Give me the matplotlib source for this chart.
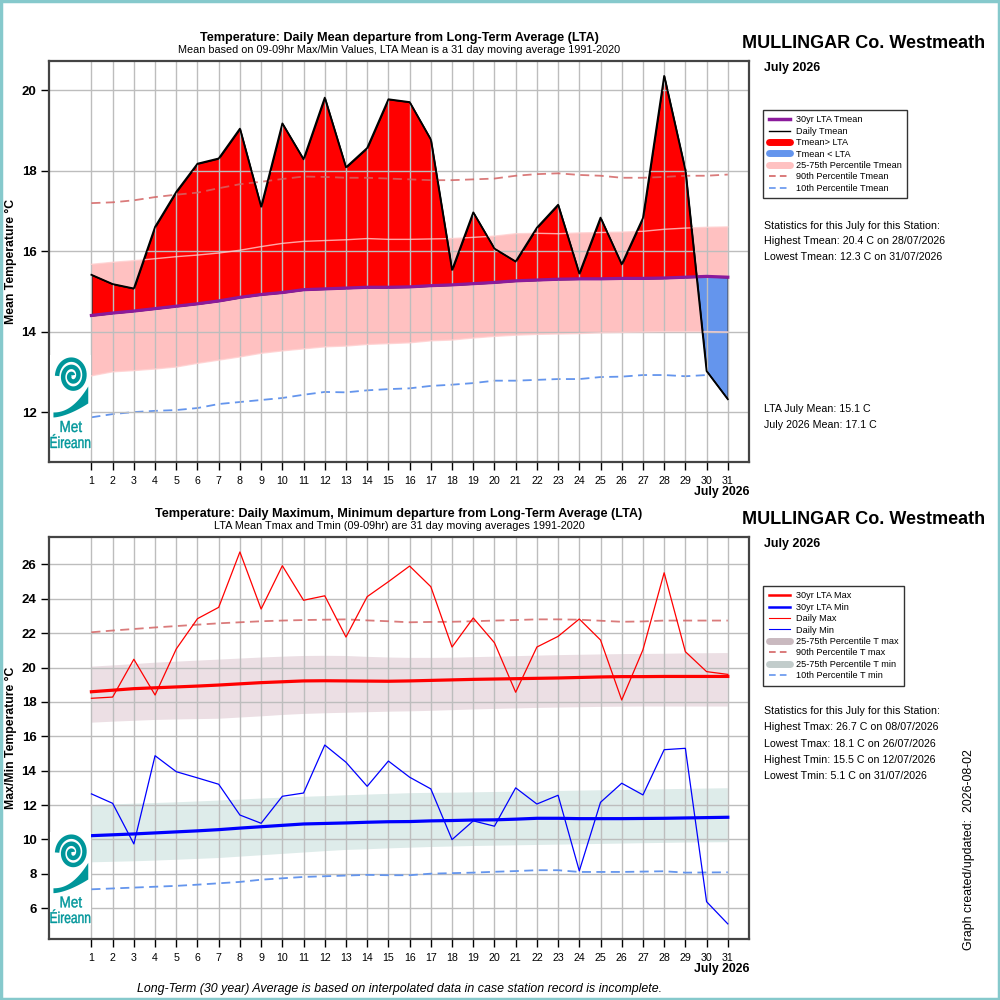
import numpy as np
import matplotlib
matplotlib.use("Agg")
import matplotlib.pyplot as plt
from matplotlib.lines import Line2D
from matplotlib.patches import Rectangle, PathPatch
from matplotlib.textpath import TextPath
from matplotlib.font_manager import FontProperties
from matplotlib.transforms import Affine2D

plt.rcParams['font.family'] = ['Liberation Sans', 'DejaVu Sans']

# ---------------- data ----------------
days = list(range(1, 32))
day_labels = [str(d) for d in days]

tmean = [15.42, 15.19, 15.08, 16.61, 17.48, 18.18, 18.31, 19.05, 17.11, 19.18,
         18.29, 19.82, 18.09, 18.57, 19.78, 19.71, 18.78, 15.54, 16.97, 16.07,
         15.75, 16.59, 17.16, 15.45, 16.84, 15.68, 16.83, 20.36, 18.02, 13.03, 12.33]
lta_tmean = [14.41, 14.47, 14.52, 14.58, 14.64, 14.70, 14.77, 14.86, 14.93, 14.98,
             15.05, 15.07, 15.09, 15.11, 15.11, 15.12, 15.15, 15.17, 15.20, 15.23,
             15.27, 15.29, 15.31, 15.32, 15.32, 15.33, 15.33, 15.34, 15.36, 15.38, 15.36]
p75_tmean = [15.68, 15.73, 15.77, 15.82, 15.87, 15.91, 15.96, 16.03, 16.12, 16.20,
             16.25, 16.27, 16.29, 16.32, 16.30, 16.30, 16.31, 16.32, 16.35, 16.38,
             16.44, 16.45, 16.44, 16.46, 16.47, 16.48, 16.50, 16.55, 16.58, 16.60, 16.61]
p25_tmean = [12.91, 13.01, 13.04, 13.08, 13.13, 13.22, 13.30, 13.38, 13.47, 13.53,
             13.58, 13.63, 13.65, 13.69, 13.71, 13.73, 13.78, 13.80, 13.85, 13.89,
             13.92, 13.94, 13.95, 13.96, 13.98, 13.99, 14.00, 14.01, 14.01, 14.01, 14.00]
p90_tmean = [17.20, 17.22, 17.27, 17.35, 17.41, 17.46, 17.57, 17.67, 17.73, 17.80,
             17.86, 17.85, 17.83, 17.83, 17.81, 17.79, 17.77, 17.77, 17.79, 17.81,
             17.88, 17.92, 17.94, 17.90, 17.88, 17.83, 17.83, 17.85, 17.88, 17.88, 17.91]
p10_tmean = [11.88, 11.96, 12.01, 12.04, 12.06, 12.11, 12.21, 12.26, 12.31, 12.36,
             12.44, 12.51, 12.50, 12.55, 12.58, 12.60, 12.66, 12.69, 12.73, 12.79,
             12.79, 12.81, 12.83, 12.83, 12.88, 12.89, 12.93, 12.93, 12.90, 12.93, 12.93]

tmax = [18.21, 18.28, 20.48, 18.40, 21.08, 22.84, 23.50, 26.72, 23.40, 25.92,
        23.91, 24.17, 21.77, 24.12, 24.99, 25.90, 24.70, 21.19, 22.88, 21.44,
        18.56, 21.19, 21.81, 22.82, 21.60, 18.11, 21.03, 25.51, 20.92, 19.76, 19.60]
tmin = [12.65, 12.10, 9.74, 14.87, 13.94, 13.58, 13.21, 11.42, 10.94, 12.51,
        12.70, 15.49, 14.49, 13.09, 14.56, 13.62, 12.94, 9.99, 11.08, 10.77,
        13.00, 12.06, 12.57, 8.17, 12.16, 13.27, 12.59, 15.22, 15.30, 6.38, 5.09]
lta_tmax = [18.59, 18.68, 18.77, 18.82, 18.87, 18.92, 18.98, 19.05, 19.12, 19.17,
            19.22, 19.23, 19.22, 19.21, 19.20, 19.22, 19.25, 19.28, 19.31, 19.33,
            19.35, 19.37, 19.39, 19.42, 19.45, 19.47, 19.47, 19.48, 19.48, 19.48, 19.48]
lta_tmin = [10.22, 10.27, 10.32, 10.38, 10.44, 10.50, 10.57, 10.66, 10.74, 10.82,
            10.90, 10.93, 10.96, 11.00, 11.03, 11.04, 11.08, 11.10, 11.13, 11.14,
            11.18, 11.23, 11.23, 11.21, 11.21, 11.21, 11.22, 11.23, 11.25, 11.27, 11.29]
p75_tmax = [20.05, 20.12, 20.20, 20.28, 20.34, 20.40, 20.46, 20.52, 20.58, 20.63,
            20.67, 20.68, 20.67, 20.62, 20.58, 20.56, 20.56, 20.57, 20.60, 20.63,
            20.66, 20.69, 20.72, 20.74, 20.76, 20.78, 20.79, 20.80, 20.82, 20.83, 20.84]
p25_tmax = [16.79, 16.85, 16.90, 16.95, 16.98, 17.00, 17.02, 17.09, 17.16, 17.24,
            17.30, 17.34, 17.37, 17.40, 17.43, 17.45, 17.48, 17.52, 17.56, 17.59,
            17.62, 17.65, 17.67, 17.69, 17.71, 17.72, 17.73, 17.73, 17.73, 17.73, 17.73]
p90_tmax = [22.05, 22.15, 22.24, 22.33, 22.41, 22.49, 22.57, 22.63, 22.69, 22.73,
            22.76, 22.78, 22.80, 22.74, 22.69, 22.63, 22.65, 22.66, 22.69, 22.73,
            22.76, 22.80, 22.80, 22.78, 22.72, 22.66, 22.68, 22.73, 22.73, 22.73, 22.73]
p75_tmin = [12.00, 12.04, 12.08, 12.12, 12.16, 12.21, 12.26, 12.32, 12.38, 12.43,
            12.48, 12.52, 12.57, 12.61, 12.65, 12.69, 12.71, 12.72, 12.74, 12.76,
            12.78, 12.80, 12.82, 12.84, 12.86, 12.88, 12.90, 12.92, 12.94, 12.96, 12.98]
p25_tmin = [8.67, 8.70, 8.73, 8.77, 8.82, 8.87, 8.92, 9.00, 9.08, 9.16,
            9.24, 9.32, 9.39, 9.43, 9.48, 9.52, 9.56, 9.59, 9.62, 9.64,
            9.66, 9.68, 9.70, 9.72, 9.74, 9.76, 9.78, 9.80, 9.82, 9.83, 9.84]
p10_tmin = [7.10, 7.15, 7.20, 7.25, 7.30, 7.37, 7.45, 7.53, 7.66, 7.74,
            7.82, 7.86, 7.90, 7.94, 7.92, 7.92, 8.01, 8.04, 8.07, 8.12,
            8.16, 8.21, 8.21, 8.11, 8.11, 8.11, 8.13, 8.15, 8.07, 8.08, 8.09]

yticks_top = [12, 14, 16, 18, 20]
yticks_bot = [6, 8, 10, 12, 14, 16, 18, 20, 22, 24, 26]

station = "MULLINGAR Co. Westmeath"
month_label = "July 2026"
stats_top = ["Statistics for this July for this Station:",
             "Highest Tmean: 20.4 C on 28/07/2026",
             "Lowest Tmean: 12.3 C on 31/07/2026"]
means_top = ["LTA July Mean: 15.1 C", "July 2026 Mean: 17.1 C"]
stats_bot = ["Statistics for this July for this Station:",
             "Highest Tmax: 26.7 C on 08/07/2026",
             "Lowest Tmax: 18.1 C on 26/07/2026",
             "Highest Tmin: 15.5 C on 12/07/2026",
             "Lowest Tmin: 5.1 C on 31/07/2026"]

# ---------------- styles ----------------
C_PURPLE = '#8b1a9b'
C_RED = '#ff0000'
C_BLUEFILL = '#6495ed'
C_PINK = '#ffc1c1'
C_P90 = '#d46464'
C_P10 = '#6495ed'
C_BAND_MAX = '#ecdfe4'
C_BAND_MIN = '#deecea'
C_TEAL = '#00969a'
GRID = '#bdbdbd'

fig = plt.figure(figsize=(10, 10), dpi=100)
fig.patch.set_facecolor('white')
fig.patches.append(Rectangle((0.001, 0.001), 0.998, 0.998, transform=fig.transFigure,
                             fill=False, edgecolor='#86c9cc', linewidth=2.5))

d = np.array(days, dtype=float)


def style_axes(ax, ylim, yticks):
    ax.set_xlim(-1, 32)
    ax.set_ylim(*ylim)
    ax.set_xticks(days)
    ax.set_xticklabels(day_labels, fontsize=7.7)
    ax.set_yticks(yticks)
    ax.set_yticklabels([str(t) for t in yticks], fontsize=9.5, fontweight='bold')
    ax.tick_params(axis='both', direction='out', length=6, width=1, color='black', pad=3)
    ax.tick_params(axis='x', pad=4)
    ax.grid(True, color=GRID, linewidth=1)
    ax.set_axisbelow('line')
    for s in ax.spines.values():
        s.set_color('#444444')
        s.set_linewidth(1.6)
    ax.text(1.0, -0.075, month_label, transform=ax.transAxes, ha='right', va='center',
            fontsize=8.8, fontweight='bold')


def squeezed_text(ax, s, x_left, y_base, size, width, weight='normal'):
    fp = FontProperties(family='Liberation Sans', weight=weight)
    tp = TextPath((0, 0), s, size=size, prop=fp)
    bb = tp.get_extents()
    sx = width / bb.width
    tr = Affine2D().translate(-bb.x0, 0).scale(sx, 1.0).translate(x_left, y_base)
    ax.add_patch(PathPatch(tr.transform_path(tp), facecolor=C_TEAL, edgecolor=C_TEAL, lw=0.3))


def draw_logo(ax, y0, y1):
    ins = ax.inset_axes([0.0015, y0, 0.058, y1 - y0])
    ins.set_facecolor('white')
    ins.set_zorder(10)
    ins.set_xlim(0, 42)
    ins.set_ylim(0, 95)
    ins.set_xticks([])
    ins.set_yticks([])
    for s in ins.spines.values():
        s.set_visible(False)
    t = np.linspace(0.8, 5.0 * np.pi, 300)
    r = 1.0 * t
    cx, cy = 23, 74
    ins.plot(cx + r * np.cos(t), cy + r * np.sin(t) * 1.15, color=C_TEAL, lw=3.2,
             solid_capstyle='butt')
    tt = np.linspace(0, 1, 60)
    xs = 3 + 36 * tt
    top = 38 + 26 * tt ** 2.2
    bot = 33 + 14 * tt ** 1.6
    ins.fill_between(xs, bot, top, color=C_TEAL, lw=0)
    squeezed_text(ins, "Met", 11, 18, 16, 22)
    squeezed_text(ins, "Éireann", 0.5, 2, 16, 41)


# ---------------- top panel ----------------
ax1 = fig.add_axes([0.049, 0.538, 0.700, 0.401])
style_axes(ax1, (10.77, 20.73), yticks_top)

ax1.fill_between(d, p25_tmean, p75_tmean, facecolor=C_PINK, edgecolor='none', zorder=0.8)
ax1.plot(d, p10_tmean, color=C_P10, lw=1.3, dashes=(5, 3), zorder=0.9)
tm = np.array(tmean)
lt = np.array(lta_tmean)
ax1.fill_between(d, tm, lt, where=tm >= lt, interpolate=True, facecolor=C_RED,
                 edgecolor='black', lw=1, zorder=1)
ax1.fill_between(d, tm, lt, where=tm <= lt, interpolate=True, facecolor=C_BLUEFILL,
                 edgecolor='black', lw=1, zorder=1)
ax1.plot(d, p75_tmean, color='#ffd0d0', lw=1, alpha=0.8, zorder=1.6)
ax1.plot(d, p25_tmean, color='#ffd0d0', lw=1, alpha=0.8, zorder=1.6)
ax1.plot(d, p90_tmean, color=C_P90, lw=1.3, dashes=(5, 3), alpha=0.85, zorder=2)
ax1.plot(d, lta_tmean, color=C_PURPLE, lw=2.3, zorder=2.1)
ax1.plot(d, tmean, color='black', lw=1.3, zorder=2.2)
ax1.set_ylabel("Mean Temperature °C", fontsize=8.8, fontweight='bold')
ax1.yaxis.set_label_coords(-0.046, 0.5)
draw_logo(ax1, 0.03, 0.267)

fig.text(0.399, 0.962, "Temperature: Daily Mean departure from Long-Term Average (LTA)",
         ha='center', va='center', fontsize=9.1, fontweight='bold')
fig.text(0.399, 0.950, "Mean based on 09-09hr Max/Min Values, LTA Mean is a 31 day moving average 1991-2020",
         ha='center', va='center', fontsize=7.8)
fig.text(0.8635, 0.957, station, ha='center', va='center', fontsize=13, fontweight='bold')
fig.text(0.764, 0.932, month_label, ha='left', va='center', fontsize=9, fontweight='bold')

h_top = [Line2D([], [], color=C_PURPLE, lw=2.5),
         Line2D([], [], color='black', lw=1),
         Line2D([], [], color=C_RED, lw=5, solid_capstyle='round'),
         Line2D([], [], color=C_BLUEFILL, lw=5, solid_capstyle='round'),
         Line2D([], [], color=C_PINK, lw=5, solid_capstyle='round'),
         Line2D([], [], color=C_P90, lw=1.2, dashes=(4, 2.5)),
         Line2D([], [], color=C_P10, lw=1.2, dashes=(4, 2.5))]
l_top = ["30yr LTA Tmean", "Daily Tmean", "Tmean> LTA", "Tmean < LTA",
         "25-75th Percentile Tmean", "90th Percentile Tmean", "10th Percentile Tmean"]
leg_kw = dict(bbox_transform=fig.transFigure, fontsize=6.6, frameon=True, fancybox=False,
              edgecolor='black', borderpad=0.6, labelspacing=0.26, handlelength=2.3,
              handletextpad=0.7, borderaxespad=0, loc='upper left')
leg1 = fig.legend(h_top, l_top, bbox_to_anchor=(0.763, 0.890), **leg_kw)
leg1.get_frame().set_linewidth(1)

for i, s in enumerate(stats_top):
    fig.text(0.764, 1 - (0.226 + 0.0155 * i), s, ha='left', va='center', fontsize=7.7)
for i, s in enumerate(means_top):
    fig.text(0.764, 1 - (0.409 + 0.016 * i), s, ha='left', va='center', fontsize=7.7)

# ---------------- bottom panel ----------------
ax2 = fig.add_axes([0.049, 0.061, 0.700, 0.402])
style_axes(ax2, (4.21, 27.59), yticks_bot)

ax2.fill_between(d, p25_tmax, p75_tmax, facecolor=C_BAND_MAX, edgecolor='none', zorder=1)
ax2.fill_between(d, p25_tmin, p75_tmin, facecolor=C_BAND_MIN, edgecolor='none', zorder=1)
ax2.plot(d, p90_tmax, color=C_P90, lw=1.3, dashes=(5, 3), alpha=0.85, zorder=2)
ax2.plot(d, p10_tmin, color=C_P10, lw=1.3, dashes=(5, 3), zorder=2)
ax2.plot(d, lta_tmax, color='#ff0000', lw=2.3, zorder=2.1)
ax2.plot(d, lta_tmin, color='#0000ff', lw=2.3, zorder=2.1)
ax2.plot(d, tmax, color='#ff0000', lw=0.9, zorder=2.2)
ax2.plot(d, tmin, color='#0000ff', lw=0.9, zorder=2.2)
ax2.set_ylabel("Max/Min Temperature °C", fontsize=8.8, fontweight='bold')
ax2.yaxis.set_label_coords(-0.046, 0.5)
draw_logo(ax2, 0.035, 0.266)

fig.text(0.399, 0.486, "Temperature: Daily Maximum, Minimum departure from Long-Term Average (LTA)",
         ha='center', va='center', fontsize=9.1, fontweight='bold')
fig.text(0.399, 0.474, "LTA Mean Tmax and Tmin (09-09hr) are 31 day moving averages 1991-2020",
         ha='center', va='center', fontsize=7.8)
fig.text(0.8635, 0.481, station, ha='center', va='center', fontsize=13, fontweight='bold')
fig.text(0.764, 0.456, month_label, ha='left', va='center', fontsize=9, fontweight='bold')

h_bot = [Line2D([], [], color='#ff0000', lw=1.8),
         Line2D([], [], color='#0000ff', lw=1.8),
         Line2D([], [], color='#ff0000', lw=0.8),
         Line2D([], [], color='#0000ff', lw=0.8),
         Line2D([], [], color='#c9b9bf', lw=5, solid_capstyle='round'),
         Line2D([], [], color=C_P90, lw=1.2, dashes=(4, 2.5)),
         Line2D([], [], color='#c2cccb', lw=5, solid_capstyle='round'),
         Line2D([], [], color=C_P10, lw=1.2, dashes=(4, 2.5))]
l_bot = ["30yr LTA Max", "30yr LTA Min", "Daily Max", "Daily Min",
         "25-75th Percentile T max", "90th Percentile T max",
         "25-75th Percentile T min", "10th Percentile T min"]
leg2 = fig.legend(h_bot, l_bot, bbox_to_anchor=(0.763, 0.414), **leg_kw)
leg2.get_frame().set_linewidth(1)

for i, s in enumerate(stats_bot):
    fig.text(0.764, 1 - (0.711 + 0.0163 * i), s, ha='left', va='center', fontsize=7.7)

fig.text(0.969, 0.150, "Graph created/updated:  2026-08-02", rotation=90,
         ha='center', va='center', fontsize=8.9)
fig.text(0.400, 0.011, "Long-Term (30 year) Average is based on interpolated data in case station record is incomplete.",
         ha='center', va='center', fontsize=8.9, style='italic')

fig.savefig("out.png", dpi=100)
